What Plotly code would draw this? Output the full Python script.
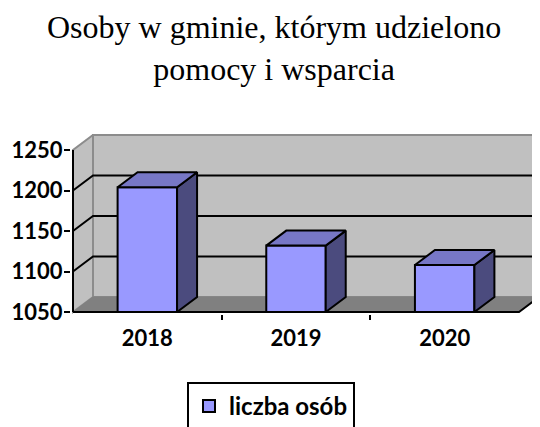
import plotly.graph_objects as go

# ---- data ----
categories = ["2018", "2019", "2020"]
values = [1204, 1132, 1108]
series_name = "liczba osób"
y_ticks = [1050, 1100, 1150, 1200, 1250]
title_lines = ["Osoby w gminie, którym udzielono", "pomocy i wsparcia"]

# ---- geometry (pixels, in screenshot coordinates) ----
OFF = 8  # default page body margin
W, H = 540 - OFF, 427 - OFF
PLOT_L, PLOT_T, PLOT_B = 71 - OFF, 134 - OFF, 314 - OFF
FRONT_X0, FRONT_W = 73 - OFF, 446
FRONT_Y_TOP, FRONT_Y_BOT = 150 - OFF, 312 - OFF
DEPTH_X, DEPTH_Y = 20, 15
BAR_W = 0.4

ymin, ymax = y_ticks[0], y_ticks[-1]
n = len(categories)
ux = n / FRONT_W
uy = (ymax - ymin) / (FRONT_Y_BOT - FRONT_Y_TOP)
dx = DEPTH_X * ux
dy = DEPTH_Y * uy
x_range = [-(FRONT_X0 - PLOT_L) * ux, n + (W - FRONT_X0 - FRONT_W) * ux]
y_range = [ymin - (PLOT_B - FRONT_Y_BOT) * uy, ymax + (FRONT_Y_TOP - PLOT_T) * uy]

PW = W - PLOT_L
PH = PLOT_B - PLOT_T


def px_to_paper(px, py):
    px, py = px - OFF, py - OFF
    return (px - PLOT_L) / PW, (PLOT_B - py) / PH


WALL = "#c0c0c0"
FLOOR = "#808080"
EDGE = "#8c8c8c"
FRONT = "#9999ff"
TOP = "#7777c6"
SIDE = "#4b4b7e"


def path(pts, close=True):
    s = "M " + " L ".join(f"{x},{y}" for x, y in pts)
    return s + (" Z" if close else "")


shapes = []
# back wall
shapes.append(dict(type="path", xref="x", yref="y", layer="below",
                   path=path([(dx, ymin + dy), (n + dx, ymin + dy), (n + dx, ymax + dy), (dx, ymax + dy)]),
                   fillcolor=WALL, line=dict(color=EDGE, width=2)))
# left wall
shapes.append(dict(type="path", xref="x", yref="y", layer="below",
                   path=path([(0, ymin), (dx, ymin + dy), (dx, ymax + dy), (0, ymax)]),
                   fillcolor=WALL, line=dict(color=EDGE, width=2)))
# floor
shapes.append(dict(type="path", xref="x", yref="y", layer="below",
                   path=path([(0, ymin), (n, ymin), (n + dx, ymin + dy), (dx, ymin + dy)]),
                   fillcolor=FLOOR, line=dict(color=FLOOR, width=1)))
# gridlines
for t in y_ticks[1:-1]:
    shapes.append(dict(type="path", xref="x", yref="y", layer="below",
                       path=path([(0, t), (dx, t + dy), (n + dx, t + dy)], close=False),
                       line=dict(color="black", width=2)))
# front y axis line
shapes.append(dict(type="line", xref="x", yref="y", layer="below",
                   x0=0, y0=ymin, x1=0, y1=ymax, line=dict(color="black", width=2)))
# floor front and right edge
shapes.append(dict(type="path", xref="x", yref="y", layer="below",
                   path=path([(0, ymin), (n, ymin), (n + dx, ymin + dy)], close=False),
                   line=dict(color="black", width=2)))

fig = go.Figure()
xs = [i + 0.5 for i in range(n)]

fig.add_trace(go.Bar(
    x=xs, y=[v - ymin for v in values], base=ymin, width=BAR_W,
    name=series_name, marker=dict(color=FRONT, line=dict(color="black", width=2)),
    hoverinfo="skip", showlegend=True,
))

for c, v in zip(xs, values):
    l, r = c - BAR_W / 2, c + BAR_W / 2
    side = [(r, ymin), (r, v), (r + dx, v + dy), (r + dx, ymin + dy), (r, ymin)]
    top = [(l, v), (r, v), (r + dx, v + dy), (l + dx, v + dy), (l, v)]
    for pts, col in ((side, SIDE), (top, TOP)):
        fig.add_trace(go.Scatter(
            x=[p[0] for p in pts], y=[p[1] for p in pts], mode="lines",
            fill="toself", fillcolor=col, line=dict(color="black", width=2),
            showlegend=False, hoverinfo="skip",
        ))

tick_font = dict(family="Lato", size=22, color="black", weight="bold")

tx, ty = px_to_paper(274, 48)
lx, ly = px_to_paper(187, 382)

fig.update_layout(
    width=W, height=H,
    margin=dict(l=PLOT_L, r=0, t=PLOT_T, b=H - PLOT_B, pad=0, autoexpand=False),
    paper_bgcolor="white", plot_bgcolor="rgba(0,0,0,0)",
    shapes=shapes,
    annotations=[dict(text="<br>".join(title_lines), xref="paper", yref="paper",
                      x=tx, y=ty, xanchor="center", yanchor="middle", showarrow=False,
                      font=dict(family="Liberation Serif", size=32, color="black"))],
    xaxis=dict(range=x_range, tickmode="array", tickvals=xs, ticktext=categories,
               showgrid=False, zeroline=False, showline=False, ticks="",
               tickfont=tick_font, fixedrange=True, automargin=False, tickangle=0,
               ticklabelstandoff=9,
               minor=dict(tickmode="array", tickvals=[1, 2], ticks="outside", ticklen=5,
                          tickwidth=2, tickcolor="black", showgrid=False)),
    yaxis=dict(range=y_range, tickmode="array", tickvals=y_ticks,
               showgrid=False, zeroline=False, showline=False, ticks="outside",
               ticklen=6, tickwidth=2, tickcolor="black", tickfont=tick_font,
               fixedrange=True, automargin=False, ticklabelstandoff=-3),
    legend=dict(x=lx, y=ly, xanchor="left", yanchor="top", bordercolor="black",
                borderwidth=2, font=dict(tick_font, size=24), bgcolor="white"),
    showlegend=True,
)

fig.write_html("out.html")
